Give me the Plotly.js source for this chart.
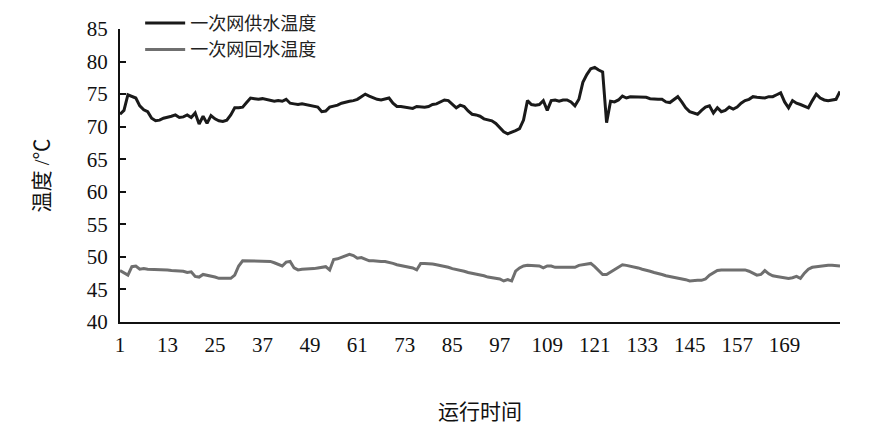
<!DOCTYPE html>
<html>
<head>
<meta charset="utf-8">
<script src="https://cdn.plot.ly/plotly-3.0.1.min.js"></script>
<style>html,body{margin:0;padding:0;background:#fff;}#chart{width:880px;height:442px;}</style>
</head>
<body>
<div id="chart"></div>
<script>
const supplyName = "一次网供水温度";
const returnName = "一次网回水温度";
const tickValues = [1, 13, 25, 37, 49, 61, 73, 85, 97, 109, 121, 133, 145, 157, 169];
const supplyTemp = [
71.9,72.5,74.9,74.6,74.4,73.2,72.6,72.3,71.3,70.9,
71.0,71.3,71.4,71.6,71.8,71.4,71.5,71.8,71.4,72.1,
70.4,71.6,70.5,71.7,71.2,70.9,70.8,71.0,71.8,72.9,
72.9,73.0,73.7,74.4,74.3,74.2,74.3,74.2,74.1,73.9,
74.0,73.9,74.2,73.6,73.5,73.4,73.5,73.4,73.3,73.2,
73.0,72.3,72.4,73.0,73.1,73.3,73.6,73.8,73.9,74.0,
74.2,74.6,75.0,74.7,74.4,74.2,74.1,74.2,74.4,73.6,
73.1,73.1,73.0,73.0,72.8,73.1,73.0,73.0,73.1,73.4,
73.5,73.8,74.1,74.0,73.4,72.9,73.3,73.1,72.4,71.9,
71.8,71.6,71.2,71.0,70.9,70.5,69.8,69.2,68.9,69.1,
69.4,69.7,71.0,74.0,73.4,73.3,73.4,74.0,72.5,74.0,
74.1,73.9,74.1,74.1,73.8,73.2,74.2,76.8,78.0,78.9,
79.1,78.7,78.4,70.6,73.9,73.8,74.1,74.7,74.4,74.6,
74.6,74.5,74.5,74.5,74.3,74.2,74.2,74.2,73.8,73.7,
74.2,74.6,73.8,72.9,72.3,72.1,71.9,72.5,73.0,73.2,
72.1,72.9,72.3,72.5,73.0,72.7,73.0,73.6,74.0,74.2,
74.6,74.5,74.5,74.4,74.6,74.6,74.9,75.2,73.8,72.9,
74.0,73.6,73.4,73.1,72.9,74.0,75.0,74.4,74.1,74.0,
74.1,74.2,75.4
];
const returnTemp = [
47.9,47.5,47.2,48.5,48.6,48.1,48.2,48.1,48.1,48.1,
48.0,48.0,48.0,47.9,47.9,47.8,47.8,47.6,47.7,47.0,
46.9,47.3,47.2,47.1,46.9,46.7,46.7,46.7,46.7,47.2,
48.6,49.4,49.4,49.4,49.4,49.4,49.4,49.3,49.3,49.1,
48.8,48.6,49.2,49.3,48.3,48.0,48.1,48.1,48.2,48.2,
48.3,48.4,48.5,48.0,49.6,49.7,49.9,50.1,50.4,50.2,
49.8,49.9,49.6,49.4,49.4,49.3,49.3,49.3,49.2,49.0,
48.8,48.7,48.6,48.5,48.3,48.0,49.0,49.0,49.0,48.9,
48.8,48.7,48.6,48.4,48.2,48.1,48.0,47.8,47.6,47.5,
47.4,47.2,47.1,46.9,46.8,46.7,46.6,46.3,46.5,46.3,
47.8,48.3,48.6,48.7,48.7,48.7,48.6,48.3,48.6,48.6,
48.4,48.4,48.4,48.4,48.4,48.4,48.7,48.8,49.0,49.0,
48.5,47.9,47.3,47.3,47.7,48.0,48.5,48.8,48.7,48.6,
48.5,48.3,48.1,48.0,47.8,47.6,47.5,47.3,47.1,47.0,
46.9,46.8,46.7,46.5,46.3,46.4,46.4,46.4,46.6,47.2,
47.6,47.9,48.0,48.0,48.1,48.1,48.1,48.0,48.0,47.8,
47.5,47.2,47.3,47.9,47.4,47.1,47.0,46.9,46.8,46.7,
46.8,47.0,46.7,47.5,48.1,48.4,48.5,48.6,48.7,48.7,
48.7,48.7,48.6
];
const timeIndex = supplyTemp.map((_, i) => i + 1);

const fontFam = "Times New Roman, Noto Sans CJK SC";

const traces = [
  {x: timeIndex, y: supplyTemp, name: supplyName, type: 'scatter', mode: 'lines',
   line: {color: '#1a1a1a', width: 3}},
  {x: timeIndex, y: returnTemp, name: returnName, type: 'scatter', mode: 'lines',
   line: {color: '#6f6f6f', width: 3}}
];

const layout = {
  width: 880, height: 442,
  margin: {l: 120, r: 40, t: 0, b: 120, autoexpand: false},
  paper_bgcolor: '#fff', plot_bgcolor: '#fff',
  font: {family: fontFam, size: 20, color: '#111'},
  showlegend: true,
  legend: {x: 0.028, y: 0.985, xanchor: 'left', yanchor: 'top', bgcolor: 'rgba(0,0,0,0)',
           font: {family: fontFam, size: 18, color: '#222'}, tracegroupgap: 0, itemwidth: 40},
  xaxis: {range: [1, 183], tickmode: 'array', tickvals: tickValues, ticktext: tickValues.map(String),
          showgrid: false, zeroline: false, showline: true, linecolor: '#111', linewidth: 2,
          ticks: '', ticklabelstandoff: 3, tickfont: {family: 'Times New Roman', size: 21, color: '#111'},
          title: {text: '运行时间', font: {family: fontFam, size: 21, color: '#111'}, standoff: 48}},
  yaxis: {domain: [0, 0.91], range: [40, 85], dtick: 5, tick0: 40, showgrid: false, zeroline: false,
          showline: true, linecolor: '#111', linewidth: 2, ticks: 'inside', ticklen: 6,
          tickcolor: '#111', tickwidth: 2, ticklabelstandoff: 6,
          tickfont: {family: 'Times New Roman', size: 21, color: '#111'},
          title: {text: '温度 /℃', font: {family: fontFam, size: 21, color: '#111'}, standoff: 31}}
};

Plotly.newPlot('chart', traces, layout, {staticPlot: true});
</script>
</body>
</html>
